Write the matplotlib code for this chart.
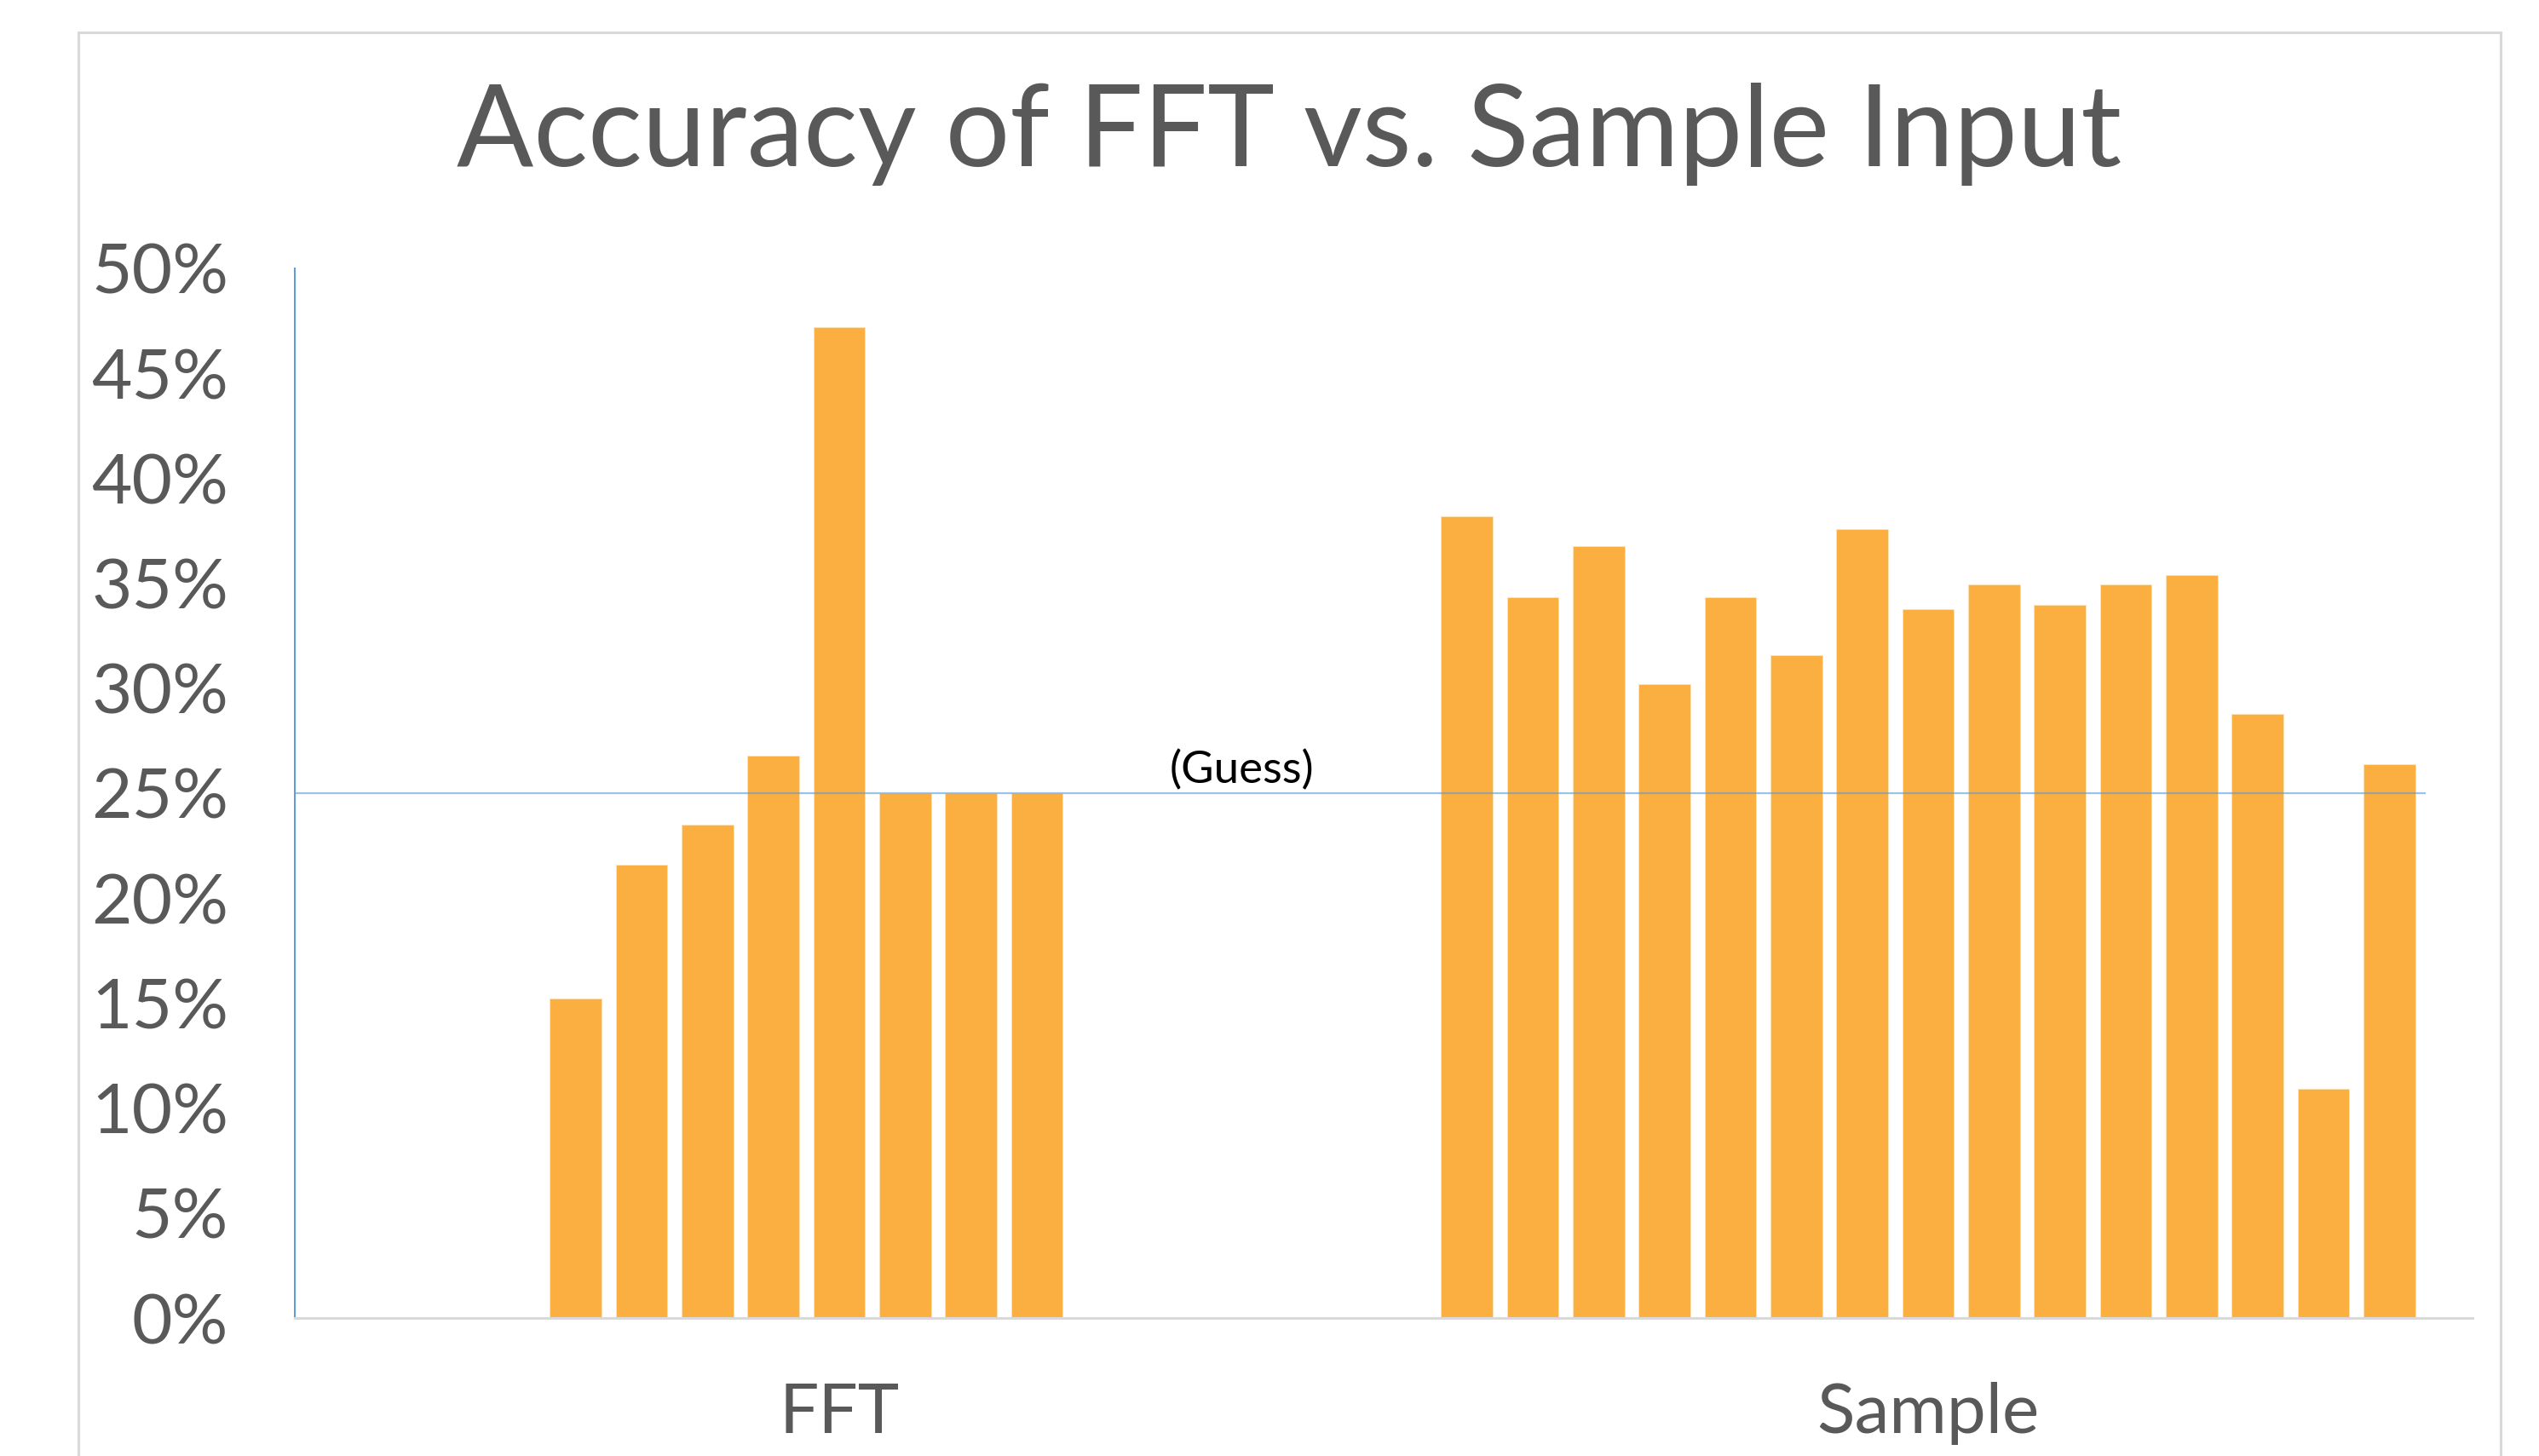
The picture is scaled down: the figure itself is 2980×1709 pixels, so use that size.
import numpy as np
import matplotlib
matplotlib.use('Agg')
import matplotlib.pyplot as plt
from matplotlib.patches import Rectangle
from matplotlib.ticker import PercentFormatter

# data (15 series slots per category, FFT has empty slots)
categories = ['FFT', 'Sample']
fft_values = [np.nan, np.nan, np.nan, 0.152, 0.216, 0.235, 0.268, 0.472,
              0.25, 0.25, 0.25, np.nan, np.nan, np.nan, np.nan]
sample_values = [0.382, 0.3435, 0.3676, 0.3018, 0.3435, 0.3156, 0.376, 0.3378,
                 0.3496, 0.3398, 0.3496, 0.3538, 0.2877, 0.109, 0.2637]
guess = 0.25
y_ticks = [0, 0.05, 0.10, 0.15, 0.20, 0.25, 0.30, 0.35, 0.40, 0.45, 0.50]

bar_color = '#FCAF41'
text_grey = '#595959'
font = 'Lato'

fig = plt.figure(figsize=(29.8, 17.09), dpi=100)
ax = fig.add_axes([346 / 2980, 1 - 1547 / 1709, (2902 - 346) / 2980, (1547 - 315) / 1709])

pitch = 0.0605
width = 0.0475
xs = np.arange(len(categories))
n_slots = len(sample_values)
for i in range(n_slots):
    heights = np.array([fft_values[i], sample_values[i]])
    keep = ~np.isnan(heights)
    ax.bar(xs[keep] + (i - (n_slots - 1) / 2) * pitch, heights[keep], width=width,
           color=bar_color, edgecolor='#FFE3B8', linewidth=0.6, zorder=2)

# the "guess" reference line
ax.axhline(guess, xmin=0, xmax=0.978, color='#5B9BD5', alpha=0.6, lw=1.6, zorder=3)
ax.annotate('(Guess)', xy=(0.37, guess), xytext=(0, 12), textcoords='offset pixels',
            ha='center', va='baseline', fontsize=38, family=font, color='black')

ax.set_xlim(-0.5, 1.5)
ax.set_ylim(0, 0.5)
ax.set_yticks(y_ticks)
ax.yaxis.set_major_formatter(PercentFormatter(1.0, decimals=0))
ax.set_xticks(xs)
ax.set_xticklabels(categories)
ax.tick_params(axis='both', length=0, labelsize=59, labelcolor=text_grey)
ax.tick_params(axis='y', pad=56)
ax.tick_params(axis='x', pad=54)
for lab in ax.get_xticklabels() + ax.get_yticklabels():
    lab.set_family(font)

for side in ['top', 'right']:
    ax.spines[side].set_visible(False)
ax.spines['left'].set_color('#5B9BD5')
ax.spines['left'].set_linewidth(1.4)
ax.spines['bottom'].set_color('#D9D9D9')
ax.spines['bottom'].set_linewidth(2.2)

fig.text(1513 / 2980, 1 - 195 / 1709, 'Accuracy of FFT vs. Sample Input', ha='center',
         va='baseline', fontsize=96, family=font, color=text_grey)

# chart area border (bottom edge is outside the image)
fig.add_artist(Rectangle((92 / 2980, -0.05), (2935 - 92) / 2980, 1 - 38 / 1709 + 0.05,
                         transform=fig.transFigure, fill=False, edgecolor='#D9D9D9', lw=2.2))

fig.savefig('out.png', dpi=100)
